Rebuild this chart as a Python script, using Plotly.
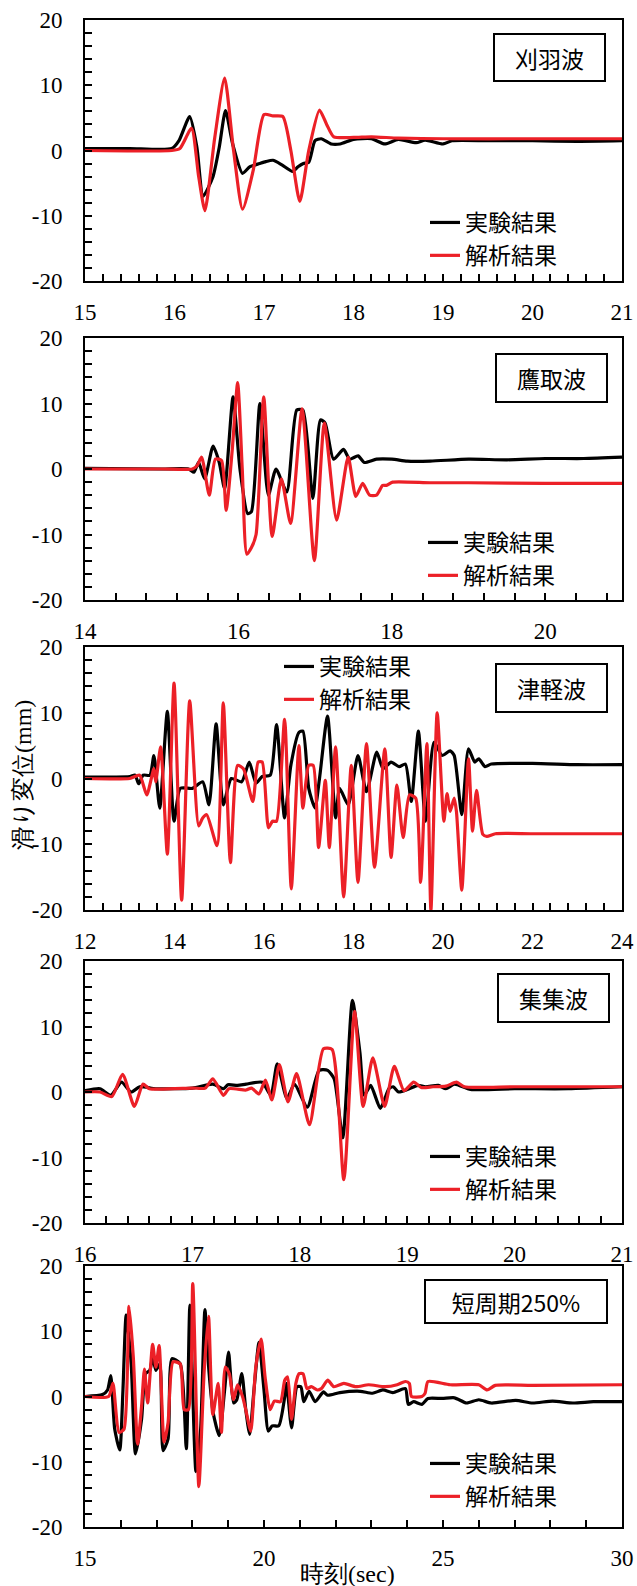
import plotly.graph_objects as go

# ---------------- data ----------------
series_names = ["実験結果", "解析結果"]
panel_titles = ["刈羽波", "鷹取波", "津軽波", "集集波", "短周期250%"]
y_tickvals = [-20, -10, 0, 10, 20]
y_ticktext = ["-20", "-10", "0", "10", "20"]

# 刈羽波
kariwa_t_exp = [15.0, 15.5, 15.97, 16.05, 16.17, 16.25, 16.32, 16.43, 16.5, 16.57, 16.65, 16.76, 16.84, 16.95, 17.02, 17.1, 17.2, 17.32, 17.38, 17.44, 17.5, 17.57, 17.64, 17.75, 17.85, 18.0, 18.2, 18.35, 18.5, 18.7, 18.8, 19.0, 19.1, 19.5, 20.0, 20.5, 21.0]
kariwa_v_exp = [0.3, 0.3, 0.3, 1.5, 5.2, 0.5, -7.0, -4.0, 0.5, 6.1, 1.0, -3.5, -2.5, -2.0, -1.7, -1.5, -2.2, -3.2, -2.5, -2.0, -1.8, 1.5, 1.8, 1.0, 1.0, 1.7, 1.8, 1.0, 1.7, 1.2, 1.6, 1.0, 1.5, 1.5, 1.5, 1.4, 1.5]
kariwa_t_ana = [15.0, 15.97, 16.06, 16.19, 16.27, 16.34, 16.45, 16.56, 16.66, 16.76, 16.88, 17.0, 17.1, 17.21, 17.3, 17.4, 17.5, 17.62, 17.7, 17.78, 18.0, 18.2, 18.5, 19.0, 20.0, 21.0]
kariwa_v_ana = [0.0, 0.0, 0.3, 3.4, -4.0, -9.2, 2.0, 11.1, 0.0, -9.0, -3.0, 5.5, 5.3, 5.2, 0.0, -7.8, 0.0, 6.2, 4.0, 2.1, 2.0, 2.1, 1.9, 1.8, 1.8, 1.8]

# 鷹取波
takatori_t_exp = [14.0, 15.0, 15.35, 15.42, 15.48, 15.56, 15.67, 15.75, 15.82, 15.93, 16.02, 16.12, 16.17, 16.28, 16.39, 16.49, 16.63, 16.76, 16.84, 16.97, 17.07, 17.13, 17.24, 17.37, 17.45, 17.56, 17.64, 17.8, 18.0, 18.2, 18.5, 19.0, 19.5, 20.0, 20.5, 21.0]
takatori_v_exp = [0.1, 0.0, 0.0, -0.5, 1.0, -1.5, 3.5, 1.0, -3.0, 11.0, 0.0, -6.8, -6.5, 10.0, -4.0, 0.0, -3.5, 9.0, 9.0, -4.5, 7.5, 7.0, 1.5, 3.0, 1.5, 2.0, 1.0, 1.5, 1.5, 1.2, 1.2, 1.5, 1.4, 1.6, 1.6, 1.8]
takatori_t_ana = [14.0, 15.0, 15.4, 15.46, 15.52, 15.62, 15.7, 15.78, 15.84, 15.92, 15.99, 16.05, 16.11, 16.17, 16.23, 16.33, 16.44, 16.56, 16.68, 16.83, 16.99, 17.12, 17.28, 17.43, 17.53, 17.62, 17.71, 17.8, 17.88, 17.93, 18.01, 18.5, 19.0, 20.0, 21.0]
takatori_v_ana = [0.0, 0.0, 0.0, 0.5, 1.8, -4.0, 1.5, 1.3, -6.3, 3.0, 13.2, 0.0, -13.0, -12.0, -10.0, 11.0, -10.3, -1.5, -8.3, 9.2, -14.0, 7.0, -7.8, 1.8, -4.2, -2.2, -4.0, -4.0, -2.5, -2.5, -2.0, -2.1, -2.1, -2.2, -2.2]

# 津軽波
tsugaru_t_exp = [12.0, 13.0, 13.12, 13.2, 13.3, 13.45, 13.54, 13.67, 13.84, 13.99, 14.13, 14.4, 14.63, 14.77, 14.93, 15.09, 15.27, 15.5, 15.67, 15.82, 15.96, 16.14, 16.28, 16.46, 16.6, 16.78, 16.87, 17.0, 17.14, 17.24, 17.42, 17.6, 17.69, 17.88, 18.1, 18.29, 18.52, 18.66, 18.84, 19.02, 19.16, 19.29, 19.45, 19.61, 19.8, 19.98, 20.16, 20.25, 20.42, 20.57, 20.71, 20.8, 20.94, 21.08, 22.0, 23.0, 24.0]
tsugaru_v_exp = [0.2, 0.3, 0.5, -0.8, 0.5, 0.5, 3.5, -4.5, 10.2, -6.5, -1.5, -1.5, -0.5, -4.0, 8.3, -4.0, 0.0, -0.5, 2.5, -0.7, 0.3, 0.5, 8.2, -6.0, 2.0, 7.0, 7.2, -1.5, -4.5, 0.0, 9.5, -6.0, -1.5, -4.0, 3.5, -2.0, 4.0, 1.5, 2.5, 1.8, 2.2, -3.5, 7.2, -6.5, 5.5, 3.5, 4.2, 3.5, -5.5, 4.5, 2.5, 3.0, 1.8, 2.2, 2.3, 2.1, 2.1]
tsugaru_t_ana = [12.0, 13.0, 13.22, 13.38, 13.54, 13.58, 13.69, 13.84, 13.99, 14.16, 14.34, 14.54, 14.63, 14.72, 14.95, 15.09, 15.25, 15.41, 15.54, 15.75, 15.87, 15.96, 16.1, 16.19, 16.28, 16.46, 16.61, 16.78, 16.87, 17.0, 17.1, 17.22, 17.37, 17.46, 17.6, 17.78, 17.95, 18.1, 18.29, 18.47, 18.7, 18.84, 18.97, 19.11, 19.25, 19.39, 19.5, 19.64, 19.73, 19.87, 20.02, 20.09, 20.16, 20.25, 20.3, 20.42, 20.57, 20.66, 20.75, 20.89, 20.98, 21.17, 22.0, 24.0]
tsugaru_v_ana = [0.0, 0.0, 0.5, -2.5, 1.5, -0.5, 4.8, -11.5, 14.5, -18.5, 11.8, -7.2, -6.0, -5.5, -10.2, 11.5, -12.8, 2.0, 1.5, -3.5, 2.5, 2.5, -7.5, -6.5, -6.5, 9.0, -16.8, 5.0, -4.5, 2.0, 2.0, -10.5, -0.3, -10.5, 4.8, -18.0, 2.0, -15.8, 5.3, -13.5, 4.5, -12.0, -1.0, -9.0, -2.5, -3.0, -15.8, 5.3, -20.0, 10.0, -6.5, -2.3, -5.0, -3.0, -5.0, -17.0, 3.0, -8.0, -1.8, -8.5, -8.8, -8.4, -8.4, -8.4]

# 集集波
chichi_t_exp = [16.0, 16.14, 16.24, 16.34, 16.43, 16.51, 16.66, 17.0, 17.19, 17.29, 17.33, 17.42, 17.5, 17.65, 17.73, 17.79, 17.88, 17.95, 18.07, 18.18, 18.26, 18.32, 18.4, 18.49, 18.56, 18.6, 18.66, 18.75, 18.83, 18.87, 18.92, 19.02, 19.1, 19.17, 19.29, 19.36, 19.44, 19.59, 20.0, 20.5, 21.0]
chichi_v_exp = [0.2, 0.5, -0.5, 1.5, 0.0, 0.8, 0.5, 0.6, 1.2, 0.5, 1.1, 1.0, 1.2, 1.5, -0.5, 4.3, -1.0, 1.2, -2.3, 3.3, 3.3, 2.0, -7.0, 14.0, 6.0, -0.5, 1.0, -2.5, 0.5, 0.8, 0.0, 0.5, 1.0, 0.8, 1.0, 0.5, 1.2, 0.4, 0.5, 0.5, 0.8]
chichi_t_ana = [16.0, 16.14, 16.25, 16.35, 16.46, 16.54, 16.6, 17.0, 17.12, 17.19, 17.29, 17.34, 17.5, 17.55, 17.62, 17.68, 17.74, 17.81, 17.89, 17.97, 18.09, 18.22, 18.3, 18.41, 18.51, 18.59, 18.68, 18.79, 18.88, 18.97, 19.06, 19.13, 19.24, 19.36, 19.46, 19.53, 20.0, 21.0]
chichi_v_ana = [0.0, 0.0, -0.7, 2.7, -2.2, 1.2, 0.5, 0.6, 0.6, 2.0, -0.5, 0.5, 0.3, 0.6, -0.3, 1.8, -1.2, 4.2, -1.5, 2.8, -5.0, 6.6, 6.5, -13.4, 12.3, -2.2, 5.2, -2.2, 3.9, 0.2, 1.5, 0.7, 0.8, 0.9, 1.5, 0.8, 0.8, 0.8]

# 短周期250%
short_t_exp = [15.0, 15.49, 15.63, 15.72, 15.83, 15.97, 16.06, 16.15, 16.29, 16.41, 16.58, 16.69, 16.81, 16.89, 16.98, 17.09, 17.18, 17.32, 17.43, 17.66, 17.83, 17.93, 18.1, 18.23, 18.35, 18.46, 18.58, 18.75, 18.9, 19.01, 19.15, 19.24, 19.38, 19.49, 19.6, 19.72, 19.86, 20.0, 20.12, 20.23, 20.41, 20.58, 20.63, 20.77, 20.92, 21.03, 21.11, 21.26, 21.43, 21.66, 21.78, 22.12, 22.69, 23.03, 23.32, 23.6, 23.95, 24.03, 24.18, 24.41, 24.58, 24.98, 25.32, 25.66, 26.0, 26.35, 27.03, 27.5, 28.06, 28.63, 29.2, 30.0]
short_v_exp = [0.0, 0.3, 1.0, 3.2, -5.0, -8.2, 1.0, 12.5, 5.0, -8.8, -3.5, 3.5, 4.0, 6.0, 4.0, 5.0, -8.3, -6.5, 5.8, 5.0, -8.0, 14.0, -11.5, -5.0, 13.3, 4.0, -2.5, -6.0, 1.0, 6.8, -1.0, -0.5, 3.5, -2.0, -5.8, 1.0, 8.3, 1.0, -5.3, -4.5, -4.5, 0.0, 2.0, -4.8, 1.5, 1.5, -0.8, 0.8, -0.8, 0.7, 0.2, 0.6, 0.8, 0.5, 1.0, 0.6, 1.2, -1.2, -0.8, -1.2, -0.3, -0.3, -0.2, -1.0, -0.5, -1.0, -0.6, -1.0, -0.7, -1.0, -0.8, -0.8]
short_t_ana = [15.0, 15.66, 15.78, 15.95, 16.09, 16.23, 16.35, 16.47, 16.58, 16.66, 16.75, 16.89, 16.98, 17.07, 17.21, 17.32, 17.46, 17.66, 17.77, 17.89, 18.01, 18.18, 18.33, 18.45, 18.57, 18.72, 18.81, 18.92, 19.03, 19.15, 19.26, 19.4, 19.49, 19.63, 19.77, 19.92, 20.03, 20.17, 20.29, 20.46, 20.58, 20.66, 20.77, 20.89, 20.98, 21.09, 21.2, 21.32, 21.49, 21.6, 21.78, 21.95, 22.23, 22.57, 22.92, 23.38, 23.72, 23.95, 24.06, 24.12, 24.41, 24.5, 24.58, 25.2, 26.0, 26.23, 26.46, 27.5, 30.0]
short_v_ana = [0.0, 0.0, 2.0, -5.5, -5.0, 13.8, 6.0, -7.3, -1.5, 4.2, -1.0, 8.0, 4.5, 7.8, -7.0, -4.0, 5.3, 5.0, -2.0, -2.0, 17.3, -13.8, 4.0, 12.3, -2.8, 2.0, -5.5, 4.5, 3.5, -0.5, 1.8, 0.0, -2.0, -5.3, 4.5, 8.8, 3.0, -2.0, -0.7, -0.8, 2.5, 3.0, -3.5, 2.0, 3.5, 3.5, 1.2, 1.5, 1.0, 1.2, 2.5, 1.5, 2.0, 1.5, 1.8, 1.5, 1.8, 2.3, 2.0, 0.0, 0.0, 0.5, 2.3, 1.8, 1.8, 1.0, 1.7, 1.7, 1.8]

x_ranges = [[15, 21], [14, 21], [12, 24], [16, 21], [15, 30]]
x_dticks = [1, 2, 2, 1, 5]
x_minor = [0.2, 0.4, 0.4, 0.2, 1]

panels = [
    (kariwa_t_exp, kariwa_v_exp, kariwa_t_ana, kariwa_v_ana),
    (takatori_t_exp, takatori_v_exp, takatori_t_ana, takatori_v_ana),
    (tsugaru_t_exp, tsugaru_v_exp, tsugaru_t_ana, tsugaru_v_ana),
    (chichi_t_exp, chichi_v_exp, chichi_t_ana, chichi_v_ana),
    (short_t_exp, short_v_exp, short_t_ana, short_v_ana),
]
for p in panels:
    assert len(p[0]) == len(p[1]) and len(p[2]) == len(p[3])

# ---------------- layout geometry ----------------
W, H = 637, 1586
def fx(x):
    return x / W
def fy(y):
    return 1 - y / H

tops = [20, 338, 647, 961, 1266]
bottoms = [281, 600, 910, 1223, 1527]
x_left, x_right = 85, 622

SERIF = "Liberation Serif"
CJK = "Noto Sans CJK JP"
BLACK = "#000000"
RED = "#ec2027"

# legend placement (left px of legend box, top px)
legend_pos = [(425, 201), (423, 521), (279, 645), (425, 1135), (425, 1442)]
# title boxes (center px x, center px y, width, height)
box_geom = [(549, 57, 113, 49), (551, 378, 113, 50), (551, 688, 113, 50), (553, 998, 113, 50), (516, 1301, 184, 45)]

fig = go.Figure()
layout = dict(
    width=W, height=H, autosize=False,
    margin=dict(l=0, r=0, t=0, b=0, autoexpand=False),
    paper_bgcolor="white", plot_bgcolor="white",
    font=dict(family=SERIF, size=23, color="black"),
    annotations=[],
)

for i, (te, ve, ta, va) in enumerate(panels):
    n = i + 1
    xa = "x" if n == 1 else f"x{n}"
    ya = "y" if n == 1 else f"y{n}"
    lg = "legend" if n == 1 else f"legend{n}"
    fig.add_trace(go.Scatter(x=te, y=ve, mode="lines", name=series_names[0],
                             line=dict(color=BLACK, width=3.2, shape="spline", smoothing=0.6),
                             xaxis=xa, yaxis=ya, legend=lg, legendgroup=f"e{n}"))
    fig.add_trace(go.Scatter(x=ta, y=va, mode="lines", name=series_names[1],
                             line=dict(color=RED, width=3.2, shape="spline", smoothing=0.6),
                             xaxis=xa, yaxis=ya, legend=lg, legendgroup=f"a{n}"))

    dom_y = [fy(bottoms[i]), fy(tops[i])]
    xkey = "xaxis" if n == 1 else f"xaxis{n}"
    ykey = "yaxis" if n == 1 else f"yaxis{n}"
    layout[xkey] = dict(
        domain=[fx(x_left), fx(x_right)], anchor=ya, range=x_ranges[i],
        tick0=x_ranges[i][0], dtick=x_dticks[i], automargin=False,
        ticks="inside", ticklen=7, tickwidth=1.5, tickcolor="black",
        minor=dict(dtick=x_minor[i], tick0=x_ranges[i][0], ticks="inside", ticklen=7, tickwidth=1.5, tickcolor="black"),
        showline=True, linecolor="black", linewidth=2, mirror=True,
        showgrid=False, zeroline=False,
        tickfont=dict(family=SERIF, size=23, color="black"),
        ticklabelstandoff=9,
    )
    layout[ykey] = dict(
        domain=dom_y, anchor=xa, range=[-20, 20], automargin=False,
        tickmode="array", tickvals=y_tickvals, ticktext=y_ticktext,
        ticks="inside", ticklen=7, tickwidth=1.5, tickcolor="black",
        minor=dict(dtick=2, tick0=0, ticks="inside", ticklen=7, tickwidth=1.5, tickcolor="black"),
        showline=True, linecolor="black", linewidth=2, mirror=True,
        showgrid=False, zeroline=False,
        tickfont=dict(family=SERIF, size=23, color="black"),
        ticklabelstandoff=16,
    )
    lx, ly = legend_pos[i]
    layout[lg] = dict(
        x=fx(lx), y=fy(ly), xanchor="left", yanchor="top",
        bgcolor="rgba(0,0,0,0)", borderwidth=0,
        font=dict(family=CJK, size=23, color="black"),
        tracegroupgap=0, itemwidth=30, traceorder="normal",
    )
    cx, cy, bw, bh = box_geom[i]
    layout["annotations"].append(dict(
        text=panel_titles[i], xref="paper", yref="paper", x=fx(cx), y=fy(cy),
        xanchor="center", yanchor="middle", showarrow=False,
        width=bw - 4, height=bh - 4, borderpad=0,
        bordercolor="black", borderwidth=2, bgcolor="white",
        font=dict(family=CJK, size=23, color="black"),
    ))

# axis titles
layout["annotations"].append(dict(
    text="滑り変位(mm)", xref="paper", yref="paper", x=fx(23), y=fy(775),
    xanchor="center", yanchor="middle", textangle=-90, showarrow=False,
    font=dict(family=SERIF, size=24, color="black"),
))
layout["annotations"].append(dict(
    text="時刻(sec)", xref="paper", yref="paper", x=fx(347), y=fy(1574),
    xanchor="center", yanchor="middle", showarrow=False,
    font=dict(family=SERIF, size=24, color="black"),
))

fig.update_layout(**layout)
fig.write_html("out.html")
